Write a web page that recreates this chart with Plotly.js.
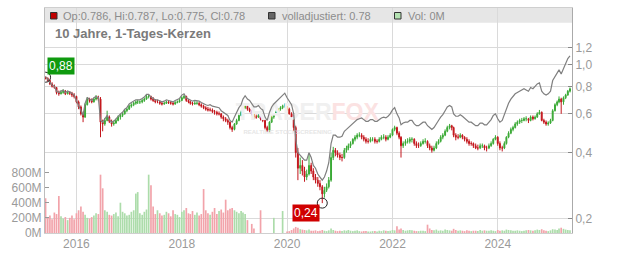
<!DOCTYPE html>
<html><head><meta charset="utf-8">
<script src="https://cdn.plot.ly/plotly-3.0.1.min.js"></script>
<style>html,body{margin:0;padding:0;background:#fff}#chart{width:632px;height:253px}</style>
</head><body><div id="chart"></div>
<script>
const dates = [
'2015-06-01','2015-06-16','2015-07-01','2015-07-16','2015-08-01','2015-08-16','2015-09-01','2015-09-16','2015-10-01','2015-10-16','2015-11-01','2015-11-16','2015-12-01','2015-12-16',
'2016-01-01','2016-01-16','2016-02-01','2016-02-16','2016-03-01','2016-03-16','2016-04-01','2016-04-16','2016-05-01','2016-05-16','2016-06-01','2016-06-16','2016-07-01','2016-07-16','2016-08-01','2016-08-16','2016-09-01','2016-09-16','2016-10-01','2016-10-16','2016-11-01','2016-11-16','2016-12-01','2016-12-16',
'2017-01-01','2017-01-16','2017-02-01','2017-02-16','2017-03-01','2017-03-16','2017-04-01','2017-04-16','2017-05-01','2017-05-16','2017-06-01','2017-06-16','2017-07-01','2017-07-16','2017-08-01','2017-08-16','2017-09-01','2017-09-16','2017-10-01','2017-10-16','2017-11-01','2017-11-16','2017-12-01','2017-12-16',
'2018-01-01','2018-01-16','2018-02-01','2018-02-16','2018-03-01','2018-03-16','2018-04-01','2018-04-16','2018-05-01','2018-05-16','2018-06-01','2018-06-16','2018-07-01','2018-07-16','2018-08-01','2018-08-16','2018-09-01','2018-09-16','2018-10-01','2018-10-16','2018-11-01','2018-11-16','2018-12-01','2018-12-16',
'2019-01-01','2019-01-16','2019-02-01','2019-02-16','2019-03-01','2019-03-16','2019-04-01','2019-04-16','2019-05-01','2019-05-16','2019-06-01','2019-06-16','2019-07-01','2019-07-16','2019-08-01','2019-08-16','2019-09-01','2019-09-16','2019-10-01','2019-10-16','2019-11-01','2019-11-16','2019-12-01','2019-12-16',
'2020-01-01','2020-01-16','2020-02-01','2020-02-16','2020-03-01','2020-03-16','2020-04-01','2020-04-16','2020-05-01','2020-05-16','2020-06-01','2020-06-16','2020-07-01','2020-07-16','2020-08-01','2020-08-16','2020-09-01','2020-09-16','2020-10-01','2020-10-16','2020-11-01','2020-11-16','2020-12-01','2020-12-16',
'2021-01-01','2021-01-16','2021-02-01','2021-02-16','2021-03-01','2021-03-16','2021-04-01','2021-04-16','2021-05-01','2021-05-16','2021-06-01','2021-06-16','2021-07-01','2021-07-16','2021-08-01','2021-08-16','2021-09-01','2021-09-16','2021-10-01','2021-10-16','2021-11-01','2021-11-16','2021-12-01','2021-12-16',
'2022-01-01','2022-01-16','2022-02-01','2022-02-16','2022-03-01','2022-03-16','2022-04-01','2022-04-16','2022-05-01','2022-05-16','2022-06-01','2022-06-16','2022-07-01','2022-07-16','2022-08-01','2022-08-16','2022-09-01','2022-09-16','2022-10-01','2022-10-16','2022-11-01','2022-11-16','2022-12-01','2022-12-16',
'2023-01-01','2023-01-16','2023-02-01','2023-02-16','2023-03-01','2023-03-16','2023-04-01','2023-04-16','2023-05-01','2023-05-16','2023-06-01','2023-06-16','2023-07-01','2023-07-16','2023-08-01','2023-08-16','2023-09-01','2023-09-16','2023-10-01','2023-10-16','2023-11-01','2023-11-16','2023-12-01','2023-12-16',
'2024-01-01','2024-01-16','2024-02-01','2024-02-16','2024-03-01','2024-03-16','2024-04-01','2024-04-16','2024-05-01','2024-05-16','2024-06-01','2024-06-16','2024-07-01','2024-07-16','2024-08-01','2024-08-16','2024-09-01','2024-09-16','2024-10-01','2024-10-16','2024-11-01','2024-11-16','2024-12-01','2024-12-16',
'2025-01-01','2025-01-16','2025-02-01','2025-02-16','2025-03-01','2025-03-16','2025-04-01','2025-04-16','2025-05-01','2025-05-16'];

const open = [
.880,.870,.850,.820,.800,.790,.750,.740,.750,.760,.740,.750,.745,.730,
.720,.680,.645,.600,.580,.660,.700,.690,.680,.700,.710,.700,.550,.540,.560,.580,.555,.540,.545,.560,.580,.590,.600,.620,
.630,.650,.660,.670,.680,.680,.680,.690,.700,.720,.720,.700,.690,.680,.680,.670,.665,.670,.680,.675,.670,.665,.675,.680,
.690,.710,.720,.690,.680,.670,.665,.670,.670,.660,.650,.640,.630,.625,.625,.615,.610,.600,.600,.580,.570,.560,.550,.520,
.510,.540,.560,.590,.610,.640,.650,.630,.620,.600,.580,.580,.590,.570,.560,.520,.500,.550,.580,.600,.610,.630,.640,.650,
.660,.630,.600,.580,.520,.400,.340,.350,.330,.310,.320,.350,.330,.310,.300,.290,.280,.260,.270,.280,.300,.380,.410,.400,
.390,.380,.380,.410,.420,.430,.440,.460,.470,.480,.480,.470,.460,.450,.450,.460,.460,.450,.450,.460,.470,.470,.460,.470,
.480,.510,.520,.490,.470,.430,.440,.450,.450,.460,.460,.440,.430,.430,.440,.450,.450,.430,.420,.410,.420,.440,.450,.470,
.480,.500,.520,.530,.520,.480,.470,.470,.480,.470,.460,.450,.440,.440,.430,.420,.420,.430,.430,.420,.420,.430,.440,.460,
.470,.440,.420,.420,.440,.470,.490,.510,.520,.540,.550,.560,.560,.570,.570,.560,.580,.570,.580,.600,.610,.560,.550,.540,
.545,.560,.620,.660,.680,.700,.680,.710,.730,.760];

const high = [
.885,.878,.860,.835,.815,.795,.765,.770,.775,.770,.765,.760,.755,.745,
.725,.690,.655,.615,.670,.715,.710,.705,.710,.730,.725,.715,.565,.575,.620,.590,.565,.560,.570,.590,.600,.610,.630,.640,
.660,.670,.680,.690,.695,.690,.700,.710,.730,.735,.725,.715,.700,.695,.690,.680,.680,.690,.690,.685,.680,.685,.690,.700,
.720,.735,.725,.700,.690,.680,.685,.685,.680,.670,.660,.650,.645,.640,.635,.625,.620,.615,.605,.590,.580,.570,.555,.530,
.545,.570,.595,.620,.650,.670,.655,.640,.625,.610,.595,.600,.595,.580,.565,.530,.555,.590,.605,.620,.635,.650,.660,.670,
.670,.640,.610,.590,.530,.420,.380,.370,.345,.335,.390,.360,.340,.320,.310,.300,.285,.280,.290,.310,.400,.425,.420,.410,
.400,.395,.420,.430,.440,.450,.465,.480,.490,.495,.490,.480,.470,.465,.470,.470,.470,.460,.470,.480,.485,.480,.480,.490,
.515,.530,.525,.500,.475,.450,.460,.465,.470,.470,.465,.450,.445,.450,.460,.465,.455,.440,.430,.430,.450,.460,.480,.490,
.510,.530,.540,.535,.525,.490,.485,.490,.485,.475,.470,.460,.450,.445,.440,.435,.440,.440,.435,.430,.440,.450,.465,.480,
.475,.450,.430,.450,.475,.500,.520,.530,.550,.560,.570,.575,.580,.585,.575,.590,.590,.590,.610,.625,.615,.570,.560,.555,
.570,.630,.670,.690,.720,.710,.720,.740,.770,.790];

const low = [
.860,.840,.810,.790,.780,.735,.725,.735,.740,.730,.735,.730,.715,.705,
.670,.630,.590,.550,.575,.655,.675,.670,.675,.690,.685,.470,.500,.530,.555,.545,.525,.530,.540,.555,.565,.580,.595,.610,
.625,.640,.650,.660,.665,.665,.670,.680,.695,.705,.690,.680,.670,.670,.660,.655,.660,.665,.665,.660,.655,.660,.670,.675,
.685,.700,.680,.670,.660,.655,.660,.660,.650,.640,.630,.620,.615,.615,.605,.595,.590,.590,.570,.555,.550,.535,.510,.497,
.505,.535,.555,.585,.605,.630,.620,.610,.590,.570,.570,.575,.560,.550,.510,.497,.495,.545,.570,.595,.605,.620,.630,.640,
.620,.595,.570,.500,.380,.300,.320,.315,.295,.300,.315,.320,.300,.290,.280,.270,.236,.250,.265,.275,.295,.370,.385,.380,
.370,.365,.375,.400,.410,.420,.435,.450,.460,.470,.460,.450,.440,.440,.445,.450,.440,.440,.445,.455,.460,.450,.455,.465,
.475,.500,.480,.460,.380,.420,.430,.440,.440,.445,.430,.420,.420,.425,.435,.440,.420,.410,.400,.405,.415,.435,.445,.460,
.475,.495,.510,.505,.470,.455,.460,.465,.460,.450,.440,.430,.430,.420,.415,.410,.415,.420,.410,.405,.415,.425,.435,.455,
.430,.410,.405,.415,.435,.465,.485,.500,.515,.530,.540,.545,.555,.555,.545,.555,.560,.565,.575,.595,.555,.540,.530,.530,
.540,.555,.615,.650,.670,.600,.660,.700,.725,.750];

const close = [
.870,.850,.820,.800,.790,.750,.740,.750,.760,.740,.750,.745,.730,.720,
.680,.645,.600,.580,.660,.700,.690,.680,.700,.710,.700,.550,.540,.560,.580,.555,.540,.545,.560,.580,.590,.600,.620,.630,
.650,.660,.670,.680,.680,.680,.690,.700,.720,.720,.700,.690,.680,.680,.670,.665,.670,.680,.675,.670,.665,.675,.680,.690,
.710,.720,.690,.680,.670,.665,.670,.670,.660,.650,.640,.630,.625,.625,.615,.610,.600,.600,.580,.570,.560,.550,.520,.510,
.540,.560,.590,.610,.640,.650,.630,.620,.600,.580,.580,.590,.570,.560,.520,.500,.550,.580,.600,.610,.630,.640,.650,.660,
.630,.600,.580,.520,.400,.340,.350,.330,.310,.320,.350,.330,.310,.300,.290,.280,.260,.270,.280,.300,.380,.410,.400,.390,
.380,.380,.410,.420,.430,.440,.460,.470,.480,.480,.470,.460,.450,.450,.460,.460,.450,.450,.460,.470,.470,.460,.470,.480,
.510,.520,.490,.470,.430,.440,.450,.450,.460,.460,.440,.430,.430,.440,.450,.450,.430,.420,.410,.420,.440,.450,.470,.480,
.500,.520,.530,.520,.480,.470,.470,.480,.470,.460,.450,.440,.440,.430,.420,.420,.430,.430,.420,.420,.430,.440,.460,.470,
.440,.420,.420,.440,.470,.490,.510,.520,.540,.550,.560,.560,.570,.570,.560,.580,.570,.580,.600,.610,.560,.550,.540,.545,
.560,.620,.660,.680,.700,.680,.710,.730,.760,.780];

const adjusted = [
.885,.860,.830,.810,.800,.760,.750,.760,.770,.750,.760,.755,.740,.730,
.690,.655,.610,.590,.670,.710,.700,.690,.710,.720,.710,.560,.550,.570,.590,.565,.550,.555,.570,.590,.600,.610,.630,.640,
.665,.675,.685,.695,.695,.695,.705,.715,.735,.735,.715,.705,.695,.695,.685,.680,.685,.695,.690,.685,.680,.690,.695,.705,
.730,.740,.710,.700,.690,.685,.690,.690,.685,.675,.665,.660,.655,.660,.650,.645,.640,.640,.620,.610,.600,.590,.560,.550,
.580,.610,.640,.660,.700,.725,.700,.690,.665,.645,.645,.655,.635,.625,.580,.560,.610,.645,.665,.680,.700,.715,.730,.745,
.710,.680,.660,.600,.460,.400,.390,.380,.370,.370,.400,.380,.350,.340,.320,.310,.300,.310,.330,.360,.440,.480,.480,.470,
.470,.475,.500,.510,.520,.530,.545,.555,.565,.570,.575,.565,.555,.555,.565,.565,.555,.555,.565,.575,.580,.575,.585,.600,
.625,.640,.600,.575,.535,.545,.550,.550,.560,.560,.540,.530,.530,.540,.550,.550,.530,.520,.510,.520,.545,.560,.580,.595,
.620,.645,.655,.645,.600,.585,.585,.595,.585,.575,.565,.550,.550,.540,.530,.530,.545,.545,.535,.535,.550,.565,.590,.600,
.570,.550,.560,.600,.640,.670,.700,.720,.740,.750,.760,.770,.780,.770,.760,.790,.780,.800,.820,.830,.760,.740,.730,.740,
.760,.850,.890,.920,.950,.910,.970,1.030,1.070,1.100];

const volumeM = [
460,200,230,180,270,250,490,220,190,210,170,200,230,180,
260,300,350,280,240,200,190,210,230,260,250,770,590,300,280,240,230,250,270,220,400,280,260,230,
240,280,300,520,540,260,240,280,310,770,630,350,250,300,260,230,240,280,260,220,300,250,240,210,
280,300,330,260,250,290,240,270,230,250,580,300,260,240,280,330,250,290,310,270,440,300,320,330,
300,280,260,290,270,250,170,0,120,60,0,0,300,0,0,0,0,0,200,0,0,0,290,0,
20,25,40,60,80,70,50,45,40,35,45,30,30,35,25,30,40,30,25,35,60,40,30,25,
30,25,35,30,40,30,25,30,35,25,20,25,25,20,20,25,25,20,30,25,35,30,25,30,
40,35,90,45,60,40,30,35,40,35,30,25,25,30,30,25,110,60,40,35,45,30,35,30,
45,40,35,30,55,40,30,35,30,25,35,30,25,30,30,25,40,30,35,30,30,35,30,25,
40,30,35,30,45,40,35,30,30,35,30,25,30,35,40,35,30,35,45,40,50,35,30,25,
35,50,45,40,60,70,55,45,40,35];

const volTicks = [0, 200, 400, 600, 800];
const volTickText = ['0M', '200M', '400M', '600M', '800M'];
const priceTicks = [0.2, 0.4, 0.6, 0.8, 1.0, 1.2];
const priceTickText = ['0,2', '0,4', '0,6', '0,8', '1,0', '1,2'];
const legendTexts = ['Op:0.786, Hi:0.787, Lo:0.775, Cl:0.78', 'volladjustiert: 0.78', 'Vol: 0M'];
const chartTitle = '10 Jahre, 1-Tages-Kerzen';

// layout helpers (pixel -> paper)
const PL = 45, PT = 8, PW = 527, PH = 225;
const px = v => (v - PL) / PW;
const py = v => (PT + PH - v) / PH;

const RED = '#c3161c', GREEN = '#3aa935';
const volColors = close.map((c, i) => c >= open[i] ? '#acdcaa' : '#f2a3aa');

let minIdx = 0;
low.forEach((v, i) => { if (v < low[minIdx]) minIdx = i; });
const fmt = v => v.toFixed(2).replace('.', ',');

const traces = [
  {type: 'bar', x: dates, y: volumeM, xaxis: 'x', yaxis: 'y',
   marker: {color: volColors, line: {width: 0}}, hoverinfo: 'skip'},
  {type: 'scatter', mode: 'text', x: ['2020-05-20'], y: [0.596], xaxis: 'x', yaxis: 'y2',
   text: ["<b>TRADER<span style='color:#fbe2e2'>FOX</span></b>"],
   textfont: {family: 'Liberation Sans, Arial, sans-serif', size: 23, color: '#f0f0f0'}, hoverinfo: 'skip'},
  {type: 'scatter', mode: 'text', x: ['2020-01-05'], y: [0.492], xaxis: 'x', yaxis: 'y2',
   text: ['<b>REALTIME STOCKSCREENING</b>'],
   textfont: {family: 'Liberation Sans, Arial, sans-serif', size: 6, color: '#e6e6e6'}, hoverinfo: 'skip'},
  {type: 'scatter', mode: 'lines', x: dates, y: adjusted, xaxis: 'x', yaxis: 'y2',
   line: {color: '#7f7f7f', width: 1.2}, hoverinfo: 'skip'},
  {type: 'candlestick', x: dates, open: open, high: high, low: low, close: close, xaxis: 'x', yaxis: 'y2',
   increasing: {line: {color: GREEN, width: 1}, fillcolor: GREEN},
   decreasing: {line: {color: RED, width: 1}, fillcolor: RED},
   whiskerwidth: 0, hoverinfo: 'skip'},
  {type: 'scatter', mode: 'markers', x: [dates[0], dates[minIdx]], y: [open[0], low[minIdx]], xaxis: 'x', yaxis: 'y2',
   marker: {symbol: 'circle-open', size: 10, color: '#222', line: {width: 1, color: '#222'}}, hoverinfo: 'skip'}
];

const tickFont = {family: 'Liberation Sans, Arial, sans-serif', size: 12, color: '#9a9a9a'};
const legFont = {family: 'Liberation Sans, Arial, sans-serif', size: 11, color: '#8c8c8c'};

const layout = {
  width: 632, height: 253,
  margin: {l: PL, r: 632 - PL - PW, t: PT, b: 253 - PT - PH, pad: 0},
  paper_bgcolor: '#fff', plot_bgcolor: '#fff',
  showlegend: false, hovermode: false,
  bargap: 0.1,
  xaxis: {type: 'date', range: ['2015-05-28', '2025-05-30'],
    tick0: '2016-01-01', dtick: 'M24', tickformat: '%Y',
    showgrid: true, gridcolor: '#dadada', gridwidth: 1,
    showline: true, linecolor: '#cfcfcf', linewidth: 1, mirror: true,
    ticks: '', tickfont: tickFont, zeroline: false,
    rangeslider: {visible: false}},
  yaxis: {range: [0, 2970], tickvals: volTicks, ticktext: volTickText,
    showgrid: false, zeroline: false, showline: true, linecolor: '#bdbdbd', linewidth: 1,
    ticks: 'inside', ticklen: 4, tickcolor: '#999', tickfont: tickFont, fixedrange: true},
  yaxis2: {type: 'log', overlaying: 'y', side: 'right',
    range: [Math.log10(0.1727), Math.log10(1.814)],
    tickvals: priceTicks, ticktext: priceTickText,
    showgrid: true, gridcolor: '#dadada', gridwidth: 1, zeroline: false,
    showline: true, linecolor: '#aaaaaa', linewidth: 1,
    ticks: 'inside', ticklen: 4, tickcolor: '#888', tickfont: tickFont},
  shapes: [
    {type: 'rect', xref: 'paper', yref: 'paper', x0: 0, x1: 1, y0: py(22.7), y1: 1,
     fillcolor: '#e6e6e6', line: {width: 0}, layer: 'between'},
    {type: 'rect', xref: 'paper', yref: 'paper', x0: px(50.5), x1: px(57), y0: py(19), y1: py(12.5),
     fillcolor: '#c00000', line: {color: '#333', width: 1}},
    {type: 'rect', xref: 'paper', yref: 'paper', x0: px(268.5), x1: px(275), y0: py(19), y1: py(12.5),
     fillcolor: '#666', line: {color: '#333', width: 1}},
    {type: 'rect', xref: 'paper', yref: 'paper', x0: px(394.5), x1: px(401), y0: py(19), y1: py(12.5),
     fillcolor: '#b4e2b2', line: {color: '#333', width: 1}}
  ],
  annotations: [
    {xref: 'paper', yref: 'paper', x: px(61), y: py(15.8), xanchor: 'left', yanchor: 'middle',
     text: legendTexts[0], showarrow: false, font: legFont},
    {xref: 'paper', yref: 'paper', x: px(279.5), y: py(15.8), xanchor: 'left', yanchor: 'middle',
     text: legendTexts[1], showarrow: false, font: legFont},
    {xref: 'paper', yref: 'paper', x: px(405.5), y: py(15.8), xanchor: 'left', yanchor: 'middle',
     text: legendTexts[2], showarrow: false, font: legFont},
    {xref: 'paper', yref: 'paper', x: px(53), y: py(33), xanchor: 'left', yanchor: 'middle',
     text: '<b>' + chartTitle + '</b>', showarrow: false,
     font: {family: 'Liberation Sans, Arial, sans-serif', size: 13, color: '#7a7a7a'}},
    {xref: 'x', yref: 'y2', x: dates[0], y: Math.log10(open[0]), xshift: 15, yshift: 11,
     text: fmt(open[0]), showarrow: false, bgcolor: '#0f9a0f', borderpad: 1,
     font: {family: 'Liberation Sans, Arial, sans-serif', size: 12, color: '#fff'}},
    {xref: 'x', yref: 'y2', x: dates[minIdx], y: Math.log10(low[minIdx]), xshift: -16, yshift: -10,
     text: fmt(low[minIdx]), showarrow: false, bgcolor: '#d00000', borderpad: 1,
     font: {family: 'Liberation Sans, Arial, sans-serif', size: 12, color: '#fff'}}
  ]
};

Plotly.newPlot('chart', traces, layout, {staticPlot: true, displayModeBar: false});
</script></body></html>
